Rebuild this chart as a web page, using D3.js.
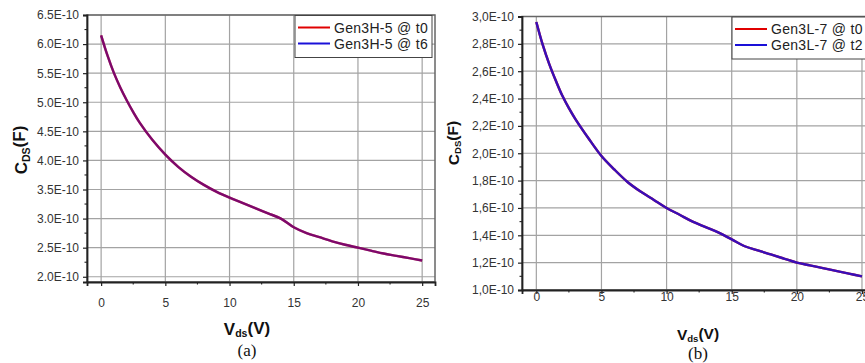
<!DOCTYPE html>
<html>
<head>
<meta charset="utf-8">
<script src="https://cdn.jsdelivr.net/npm/d3@7"></script>
<style>
  body { margin: 0; background: #fff; }
  svg { display: block; }
</style>
</head>
<body>
<svg id="chart" width="865" height="363"></svg>
<script>
// Vds sweep (V)
const vds = [0, 0.5, 1, 1.5, 2, 2.5, 3, 4, 5, 6, 7, 8, 9, 10, 11, 12, 13, 14, 15, 16, 17, 18, 19, 20, 21, 22, 23, 24, 25];

// (a) Gen3H-5, Cds in F
const cdsA_t0 = [6.15e-10, 5.80e-10, 5.50e-10, 5.25e-10, 5.03e-10, 4.83e-10, 4.65e-10, 4.35e-10, 4.10e-10, 3.89e-10, 3.72e-10, 3.58e-10, 3.46e-10, 3.36e-10, 3.27e-10, 3.18e-10, 3.09e-10, 3.00e-10, 2.85e-10, 2.75e-10, 2.68e-10, 2.61e-10, 2.55e-10, 2.50e-10, 2.45e-10, 2.40e-10, 2.36e-10, 2.32e-10, 2.28e-10];
const cdsA_t6 = [6.15e-10, 5.80e-10, 5.50e-10, 5.25e-10, 5.03e-10, 4.83e-10, 4.65e-10, 4.35e-10, 4.10e-10, 3.89e-10, 3.72e-10, 3.58e-10, 3.46e-10, 3.36e-10, 3.27e-10, 3.18e-10, 3.09e-10, 3.00e-10, 2.85e-10, 2.75e-10, 2.68e-10, 2.61e-10, 2.55e-10, 2.50e-10, 2.45e-10, 2.40e-10, 2.36e-10, 2.32e-10, 2.28e-10];

// (b) Gen3L-7
const cdsB_t0 = [2.96e-10, 2.79e-10, 2.65e-10, 2.53e-10, 2.42e-10, 2.33e-10, 2.25e-10, 2.11e-10, 1.98e-10, 1.88e-10, 1.79e-10, 1.72e-10, 1.66e-10, 1.60e-10, 1.55e-10, 1.50e-10, 1.46e-10, 1.42e-10, 1.37e-10, 1.32e-10, 1.29e-10, 1.26e-10, 1.23e-10, 1.20e-10, 1.18e-10, 1.16e-10, 1.14e-10, 1.12e-10, 1.10e-10];
const cdsB_t2 = [2.96e-10, 2.79e-10, 2.65e-10, 2.53e-10, 2.42e-10, 2.33e-10, 2.25e-10, 2.11e-10, 1.98e-10, 1.88e-10, 1.79e-10, 1.72e-10, 1.66e-10, 1.60e-10, 1.55e-10, 1.50e-10, 1.46e-10, 1.42e-10, 1.37e-10, 1.32e-10, 1.29e-10, 1.26e-10, 1.23e-10, 1.20e-10, 1.18e-10, 1.16e-10, 1.14e-10, 1.12e-10, 1.10e-10];

const xTicks = [0, 5, 10, 15, 20, 25];
const yTicksA = [2.0e-10, 2.5e-10, 3.0e-10, 3.5e-10, 4.0e-10, 4.5e-10, 5.0e-10, 5.5e-10, 6.0e-10, 6.5e-10];
const yTicksB = [1.0e-10, 1.2e-10, 1.4e-10, 1.6e-10, 1.8e-10, 2.0e-10, 2.2e-10, 2.4e-10, 2.6e-10, 2.8e-10, 3.0e-10];

const svg = d3.select("#chart");
const FONT = "Arial, 'Liberation Sans', sans-serif";

function drawPanel(p) {
  const x = d3.scaleLinear().domain([-1.1, 26]).range([p.left, p.right]);
  const y = d3.scaleLinear().domain(p.yDomain).range([p.bottom, p.top]);
  const g = svg.append("g");

  // grid
  g.append("g").selectAll("line").data(xTicks).join("line")
    .attr("x1", d => x(d)).attr("x2", d => x(d))
    .attr("y1", p.top).attr("y2", p.bottom)
    .attr("stroke", "#a3a3a3").attr("stroke-width", 1.2);
  g.append("g").selectAll("line").data(p.yTicks).join("line")
    .attr("x1", p.left).attr("x2", p.right)
    .attr("y1", d => y(d)).attr("y2", d => y(d))
    .attr("stroke", "#a3a3a3").attr("stroke-width", 1.2);

  // frame top / right
  g.append("rect")
    .attr("x", p.left).attr("y", p.top)
    .attr("width", p.right - p.left).attr("height", p.bottom - p.top)
    .attr("fill", "none").attr("stroke", "#666").attr("stroke-width", 1.5);

  // curves
  const line = d3.line().x((d, i) => x(vds[i])).y(d => y(d)).curve(d3.curveCatmullRom.alpha(0.5));
  g.append("path").datum(p.s0).attr("d", line)
    .attr("fill", "none").attr("stroke", "#e00000").attr("stroke-width", 2.4);
  g.append("path").datum(p.s1).attr("d", line)
    .attr("fill", "none").attr("stroke", "#1a10d8").attr("stroke-width", 2.4)
    .attr("stroke-opacity", p.blueOpacity);

  // axes
  const minorX = d3.range(0, 26, 2.5).filter(v => v % 5 !== 0);
  const xAxis = d3.axisBottom(x).tickValues(xTicks).tickSize(4).tickPadding(p.xPad);
  const xg = g.append("g").attr("transform", `translate(0,${p.bottom})`).call(xAxis);
  xg.select(".domain").attr("stroke", "#222").attr("stroke-width", 1.8);
  xg.selectAll(".tick line").attr("stroke", "#222").attr("stroke-width", 1.2);
  xg.selectAll(".tick text").style("font-family", FONT).style("font-size", "12px").attr("fill", "#333");
  g.append("g").selectAll("line").data(minorX).join("line")
    .attr("x1", d => x(d)).attr("x2", d => x(d))
    .attr("y1", p.bottom).attr("y2", p.bottom + 2.5)
    .attr("stroke", "#222").attr("stroke-width", 1.1);

  const yAxis = d3.axisLeft(y).tickValues(p.yTicks).tickSize(4).tickPadding(4)
    .tickFormat(p.fmt);
  const yg = g.append("g").attr("transform", `translate(${p.left},0)`).call(yAxis);
  yg.select(".domain").attr("stroke", "#222").attr("stroke-width", 1.8);
  yg.selectAll(".tick line").attr("stroke", "#222").attr("stroke-width", 1.2);
  yg.selectAll(".tick text").style("font-family", FONT).style("font-size", "12px").attr("fill", "#333");
  const step = p.yTicks[1] - p.yTicks[0];
  const minorY = p.yTicks.slice(0, -1).map(v => v + step / 2);
  g.append("g").selectAll("line").data(minorY).join("line")
    .attr("x1", p.left - 2.5).attr("x2", p.left)
    .attr("y1", d => y(d)).attr("y2", d => y(d))
    .attr("stroke", "#222").attr("stroke-width", 1.1);

  // y title
  const yt = g.append("text")
    .attr("transform", `translate(${p.yTitleX},${p.yTitleY}) rotate(-90)`)
    .attr("text-anchor", "middle")
    .style("font-family", FONT).style("font-weight", "bold").style("font-size", p.titleSize + "px")
    .attr("fill", "#111");
  yt.append("tspan").text("C");
  yt.append("tspan").attr("dy", "0.25em").style("font-size", (p.titleSize * 0.62) + "px").text("DS");
  yt.append("tspan").attr("dy", "-0.25em").text("(F)");

  // x title
  const xt = g.append("text")
    .attr("x", p.xTitleX).attr("y", p.xTitleY)
    .attr("text-anchor", "middle")
    .style("font-family", FONT).style("font-weight", "bold").style("font-size", p.titleSize + "px")
    .attr("fill", "#111");
  xt.append("tspan").text("V");
  xt.append("tspan").attr("dy", "0.2em").style("font-size", (p.titleSize * 0.62) + "px").text("ds");
  xt.append("tspan").attr("dy", "-0.2em").text("(V)");

  g.append("text")
    .attr("x", p.xTitleX).attr("y", p.capY)
    .attr("text-anchor", "middle")
    .style("font-family", "'Liberation Serif', 'Times New Roman', serif").style("font-size", "17px")
    .attr("fill", "#111")
    .text(p.caption);

  // legend
  const lg = g.append("g");
  lg.append("rect")
    .attr("x", p.legX).attr("y", p.top + 0.5)
    .attr("width", p.legW).attr("height", 42)
    .attr("fill", "#fff").attr("stroke", "#444").attr("stroke-width", 1);
  [["#e00000", p.names[0]], ["#1a10d8", p.names[1]]].forEach(([c, name], i) => {
    const ly = p.top + 12.5 + i * 16;
    lg.append("line")
      .attr("x1", p.legX + 3).attr("x2", p.legX + 35)
      .attr("y1", ly).attr("y2", ly)
      .attr("stroke", c).attr("stroke-width", 2);
    lg.append("text")
      .attr("x", p.legX + 39).attr("y", ly + 5)
      .style("font-family", FONT).style("font-size", "14px")
      .style("letter-spacing", "0.3px")
      .attr("fill", "#222")
      .text(name);
  });
}

drawPanel({
  left: 87, right: 435, top: 15, bottom: 282,
  yDomain: [1.91e-10, 6.5e-10], yTicks: yTicksA,
  fmt: d => (d * 1e10).toFixed(1) + "E-10",
  s0: cdsA_t0, s1: cdsA_t6, blueOpacity: 0.5,
  names: ["Gen3H-5 @ t0", "Gen3H-5 @ t6"],
  legX: 295, legW: 137,
  xPad: 12, titleSize: 17,
  yTitleX: 27, yTitleY: 150,
  xTitleX: 247, xTitleY: 335, capY: 356, caption: "(a)"
});

drawPanel({
  left: 522, right: 875, top: 16.5, bottom: 290,
  yDomain: [1.0e-10, 3.0e-10], yTicks: yTicksB,
  fmt: d => (d * 1e10).toFixed(1).replace(".", ",") + "E-10",
  s0: cdsB_t0, s1: cdsB_t2, blueOpacity: 0.85,
  names: ["Gen3L-7 @ t0", "Gen3L-7 @ t2"],
  legX: 732, legW: 150,
  xPad: -2, titleSize: 15.5,
  yTitleX: 459, yTitleY: 143,
  xTitleX: 698, xTitleY: 340, capY: 359, caption: "(b)"
});
</script>
</body>
</html>
